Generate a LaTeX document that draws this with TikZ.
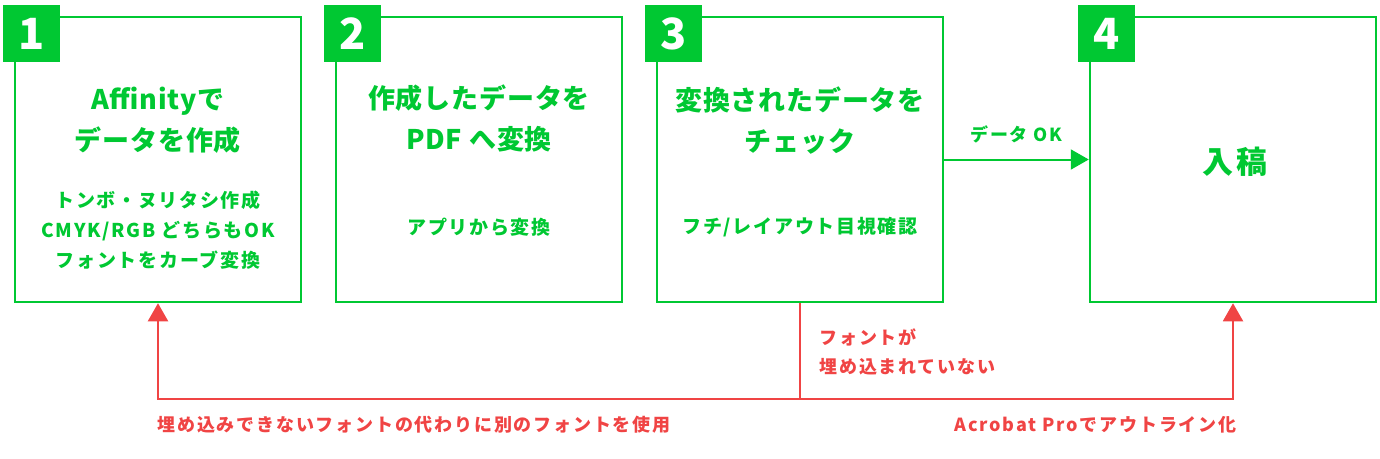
\documentclass[tikz,border=0pt]{standalone}
\usepackage{fontspec}
\setmainfont{Noto Sans CJK JP}
\usepackage{tikz}
\usetikzlibrary{arrows.meta,positioning}
\definecolor{flowgreen}{RGB}{0,200,50}
\definecolor{flowred}{RGB}{240,68,68}

\tikzset{
  stepbox/.style={draw=flowgreen, line width=2.5pt, minimum width=286pt, minimum height=285pt, inner sep=0pt},
  badge/.style={fill=flowgreen, text=white, minimum size=57pt, inner sep=0pt, anchor=north west, font=\fontsize{43}{43}\selectfont\bfseries},
  title/.style={text=flowgreen, align=center, font=\fontsize{27}{41}\selectfont\bfseries\addfontfeature{LetterSpace=3}},
  note/.style={text=flowgreen, align=center, font=\fontsize{19}{30}\selectfont\bfseries\addfontfeature{LetterSpace=9}},
  redlabel/.style={text=flowred, font=\fontsize{18}{29}\selectfont\bfseries\addfontfeature{LetterSpace=10}},
}

\begin{document}
\begin{tikzpicture}[x=1pt,y=-1pt,>={Triangle[width=20pt,length=18pt]}]
  \useasboundingbox (0,0) rectangle (1380,458);
%%
  % Node: box1
  \node[stepbox] (box1) at (158,159.5) {};
  \node[badge] (num1) at ([xshift=-11pt,yshift=11pt]box1.north west) {1};
  \node[title] (title1) at (158,120.5) {Affinityで\\データを作成};
  \node[note] (note1) at (158,230) {トンボ・ヌリタシ作成\\CMYK/RGB どちらもOK\\フォントをカーブ変換};
  % Node: box2
  \node[stepbox] (box2) at (479,159.5) {};
  \node[badge] (num2) at ([xshift=-11pt,yshift=11pt]box2.north west) {2};
  \node[title] (title2) at (479,118) {作成したデータを\\PDF へ変換};
  \node[note] (note2) at (479,227) {アプリから変換};
  % Node: box3
  \node[stepbox] (box3) at (800,159.5) {};
  \node[badge] (num3) at ([xshift=-11pt,yshift=11pt]box3.north west) {3};
  \node[title] (title3) at (800,121) {変換されたデータを\\チェック};
  \node[note] (note3) at (800,227) {フチ/レイアウト目視確認};
  % Node: box4
  \node[stepbox] (box4) at (1233,159.5) {};
  \node[badge] (num4) at ([xshift=-11pt,yshift=11pt]box4.north west) {4};
  \node[title, font=\fontsize{31}{36}\selectfont\bfseries\addfontfeature{LetterSpace=8}] (title4) at (1235,162) {入稿};
%%
  % Edge: box3 -> box4
  \draw[->, flowgreen, line width=2pt] (box3.east) -- (box4.west)
    node[midway, above=12pt, text=flowgreen, font=\fontsize{18}{22}\selectfont\bfseries\addfontfeature{LetterSpace=10}] (okdata) {データ OK};
  % Edge: box3 -> box1, box3 -> box4 (red loop)
  \coordinate (fork) at (800,399);
  \draw[flowred, line width=2pt] (box3.south) -- (fork);
  \draw[->, flowred, line width=2pt] (fork) -| (box1.south);
  \draw[->, flowred, line width=2pt] (fork) -| (box4.south);
  \node[redlabel, align=left, anchor=west] (nofont) at (816,351.5) {フォントが\\埋め込まれていない};
  \node[redlabel, anchor=west] (replace) at (154,425) {埋め込みできないフォントの代わりに別のフォントを使用};
  \node[redlabel, anchor=east] (outline) at (1240,425) {Acrobat Proでアウトライン化};
%
\end{tikzpicture}
\end{document}
